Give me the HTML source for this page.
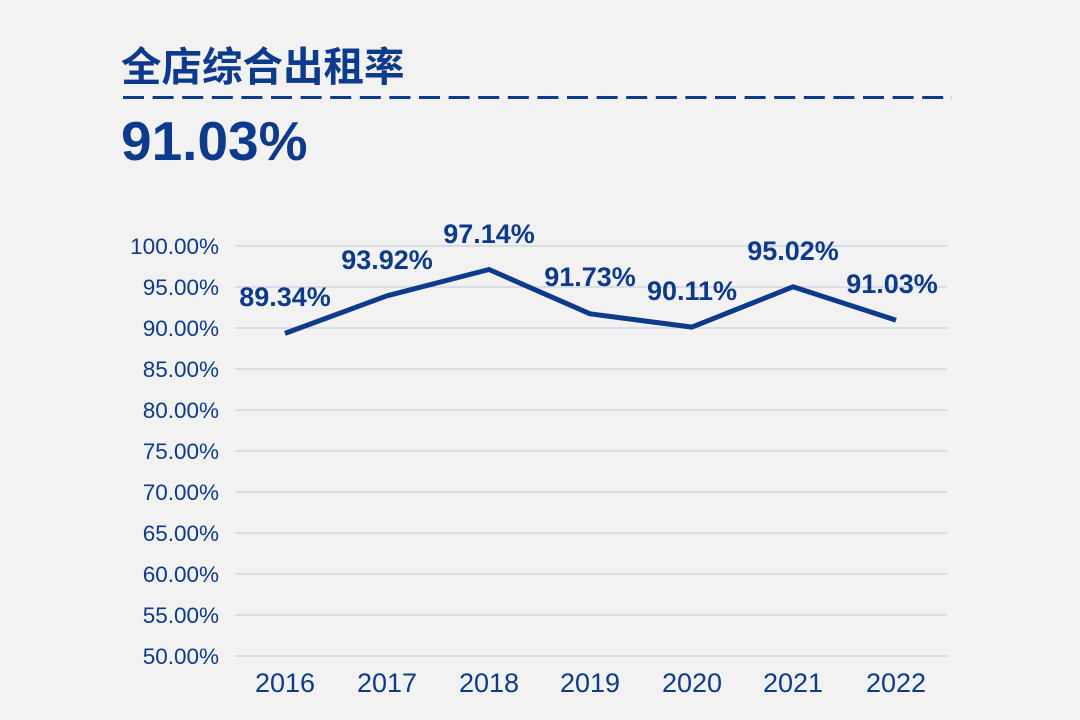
<!DOCTYPE html>
<html><head><meta charset="utf-8"><style>
html,body{margin:0;padding:0;background:#f2f2f2;}
body{width:1080px;height:720px;overflow:hidden;position:relative;font-family:"Liberation Sans","Noto Sans CJK SC",sans-serif;}
</style></head><body>
<svg width="1080" height="720" xmlns="http://www.w3.org/2000/svg" style="position:absolute;left:0;top:0">
<text x="121" y="81" font-family="Liberation Sans, Noto Sans CJK SC, sans-serif" font-weight="bold" font-size="40.5" fill="#0d3a8c">全店综合出租率</text>
<line x1="123" y1="97.5" x2="952" y2="97.5" stroke="#0d3a8c" stroke-width="3" stroke-dasharray="21 8.6"/>
<text x="121" y="160" font-family="Liberation Sans, sans-serif" font-weight="bold" font-size="55" fill="#0d3a8c">91.03%</text>
<g stroke="#cfd6e2" stroke-width="1.5">
<line x1="235" x2="947" y1="246" y2="246"/><line x1="235" x2="947" y1="287" y2="287"/>
<line x1="235" x2="947" y1="328" y2="328"/><line x1="235" x2="947" y1="369" y2="369"/>
<line x1="235" x2="947" y1="410" y2="410"/><line x1="235" x2="947" y1="451" y2="451"/>
<line x1="235" x2="947" y1="492" y2="492"/><line x1="235" x2="947" y1="533" y2="533"/>
<line x1="235" x2="947" y1="574" y2="574"/><line x1="235" x2="947" y1="615" y2="615"/>
<line x1="235" x2="947" y1="656" y2="656"/>
</g>
<g font-family="Liberation Sans, sans-serif" font-size="22.5" fill="#0d3a8c" text-anchor="end">
<text x="219" y="254">100.00%</text><text x="219" y="295">95.00%</text><text x="219" y="336">90.00%</text>
<text x="219" y="377">85.00%</text><text x="219" y="418">80.00%</text><text x="219" y="459">75.00%</text>
<text x="219" y="500">70.00%</text><text x="219" y="541">65.00%</text><text x="219" y="582">60.00%</text>
<text x="219" y="623">55.00%</text><text x="219" y="664">50.00%</text>
</g>
<g font-family="Liberation Sans, sans-serif" font-size="27" fill="#0d3a8c" text-anchor="middle">
<text x="285" y="692">2016</text><text x="387" y="692">2017</text><text x="489" y="692">2018</text>
<text x="590" y="692">2019</text><text x="692" y="692">2020</text><text x="793" y="692">2021</text><text x="896" y="692">2022</text>
</g>
<polyline fill="none" stroke="#0d3a8c" stroke-width="5" stroke-linejoin="round" points="285,333.4 387,295.8 489,269.5 590,313.8 692,327.1 793,286.8 896,320.2"/>
<g font-family="Liberation Sans, sans-serif" font-size="27" font-weight="bold" fill="#0d3a8c" text-anchor="middle">
<text x="285" y="306">89.34%</text><text x="387" y="269">93.92%</text><text x="489" y="243">97.14%</text>
<text x="590" y="286">91.73%</text><text x="692" y="300">90.11%</text><text x="793" y="260">95.02%</text><text x="892" y="293">91.03%</text>
</g>
</svg>
</body></html>
